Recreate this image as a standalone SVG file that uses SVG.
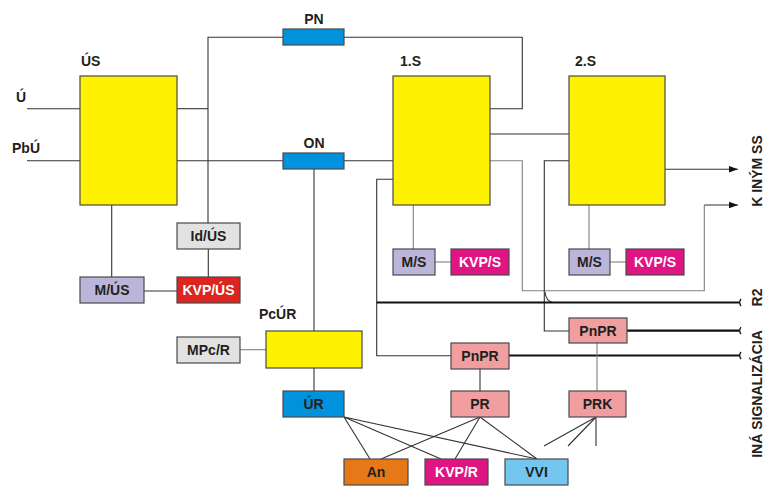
<svg xmlns="http://www.w3.org/2000/svg" width="767" height="486" viewBox="0 0 767 486">
<defs>
<style>
text{font-family:"Liberation Sans",Arial,sans-serif;font-weight:bold;font-size:14px;fill:#231f20}
.c{text-anchor:middle}
.w{fill:#ffffff}
rect{stroke:#4a4a4a;stroke-width:1.2}
.yel{fill:#fff200}
.blu{fill:#0092dd}
.gry{fill:#e2e2e2}
.lav{fill:#bbb5d9}
.red{fill:#dc2420}
.mag{fill:#de1583}
.pnk{fill:#f09ea0}
.org{fill:#e77817}
.lbl{fill:#73c6ef}
.ln{fill:none;stroke:#333;stroke-width:1.1}
.lg{fill:none;stroke:#808080;stroke-width:1.1}
.th{fill:none;stroke:#111;stroke-width:2.2}
</style>
<marker id="arr" markerUnits="userSpaceOnUse" markerWidth="10" markerHeight="8" refX="9" refY="4" orient="auto"><path d="M0,0.8 L9,4 L0,7.2 z" fill="#111"/></marker>
<marker id="tick" markerUnits="userSpaceOnUse" markerWidth="5" markerHeight="9" refX="1.5" refY="4.5" orient="auto"><path d="M3.5,1 Q0.8,4.5 3.5,8" fill="none" stroke="#111" stroke-width="1.3"/></marker>
</defs>

<g id="connectors">
<path class="ln" d="M27,108.7 H80"/>
<path class="ln" d="M27,160.7 H80"/>
<path class="ln" d="M177,108.7 H208"/>
<path class="ln" d="M283,37.3 H208 V223"/>
<path class="ln" d="M177,160.7 H283"/>
<path class="ln" d="M344,37.3 H522.3 V108.7 H490"/>
<path class="ln" d="M344,160.7 H393"/>
<path class="ln" d="M314,169 V331"/>
<path class="ln" d="M314,368 V391"/>
<path class="ln" d="M111.7,205 V277"/>
<path class="ln" d="M144,291 H177"/>
<path class="ln" d="M208.3,249 V277"/>
<path class="lg" d="M240,349.7 H266"/>
<path class="ln" d="M490,134 H569"/>
<path class="lg" d="M490,160.7 H522.3 V290.7 H704.3 V205"/>
<path class="ln" d="M704.3,205 H738" stroke-width="1.8" marker-end="url(#arr)"/>
<path class="ln" d="M665,169.3 H738" marker-end="url(#arr)"/>
<path class="ln" d="M569,160.7 H544.3 V331 H569"/>
<path class="ln" d="M545,292 Q546,301.5 553,302.5"/>
<path class="ln" d="M393,179.3 H376.7 V355.7 H451"/>
<path class="th" d="M376.7,302.5 H739" marker-end="url(#tick)"/>
<path class="th" d="M627,330.7 H739" marker-end="url(#tick)"/>
<path class="th" d="M509,355.5 H739" marker-end="url(#tick)"/>
<path class="lg" d="M413.3,205 V249"/>
<path class="lg" d="M435,262 H451"/>
<path class="lg" d="M589,205 V249"/>
<path class="lg" d="M610,262 H626"/>
<path class="lg" d="M597,343 V391"/>
<path class="ln" d="M480,369 V391"/>
<path class="ln" d="M344,417 L370,459 M344,417 L441,459 M344,417 L537,459"/>
<path class="ln" d="M480,417 L381,459 M480,417 L455,459 M480,417 L537,459"/>
<path class="ln" d="M596,417 L544,446 M596,417 L568,446 M596,417 V446"/>
</g>

<g id="US"><rect class="yel" x="80" y="76" width="97" height="129"/><text x="81" y="66">ÚS</text></g>
<g id="S1"><rect class="yel" x="393" y="76" width="97" height="129"/><text x="400" y="66">1.S</text></g>
<g id="S2"><rect class="yel" x="569" y="76" width="96" height="129"/><text x="575" y="66">2.S</text></g>
<g id="PN"><rect class="blu" x="283" y="29" width="61" height="16"/><text class="c" x="314" y="24">PN</text></g>
<g id="ON"><rect class="blu" x="283" y="153" width="61" height="16"/><text class="c" x="314" y="148">ON</text></g>
<g id="IdUS"><rect class="gry" x="177" y="223" width="63" height="26"/><text class="c" x="208.5" y="241">Id/ÚS</text></g>
<g id="MUS"><rect class="lav" x="80" y="277" width="64" height="26"/><text class="c" x="112" y="295">M/ÚS</text></g>
<g id="KVPUS"><rect class="red" x="177" y="277" width="63" height="26"/><text class="c w" x="208.5" y="295">KVP/ÚS</text></g>
<g id="PcUR"><rect class="yel" x="266" y="331" width="96" height="37"/><text x="259" y="319">PcÚR</text></g>
<g id="MPcR"><rect class="gry" x="177" y="337" width="63" height="26"/><text class="c" x="208.5" y="355">MPc/R</text></g>
<g id="UR"><rect class="blu" x="283" y="391" width="61" height="26"/><text class="c" x="313.5" y="409">ÚR</text></g>
<g id="MS1"><rect class="lav" x="393" y="249" width="42" height="26"/><text class="c" x="414" y="267">M/S</text></g>
<g id="KVPS1"><rect class="mag" x="451" y="249" width="58" height="26"/><text class="c w" x="480" y="267">KVP/S</text></g>
<g id="MS2"><rect class="lav" x="569" y="249" width="41" height="26"/><text class="c" x="589.5" y="267">M/S</text></g>
<g id="KVPS2"><rect class="mag" x="626" y="249" width="58" height="26"/><text class="c w" x="655" y="267">KVP/S</text></g>
<g id="PnPR2"><rect class="pnk" x="569" y="318" width="58" height="25"/><text class="c" x="598" y="335.5">PnPR</text></g>
<g id="PnPR1"><rect class="pnk" x="451" y="343" width="58" height="26"/><text class="c" x="480" y="361">PnPR</text></g>
<g id="PR"><rect class="pnk" x="451" y="391" width="58" height="26"/><text class="c" x="480" y="409">PR</text></g>
<g id="PRK"><rect class="pnk" x="569" y="391" width="57" height="26"/><text class="c" x="597.5" y="409">PRK</text></g>
<g id="An"><rect class="org" x="344" y="459" width="64" height="26"/><text class="c" x="376" y="477">An</text></g>
<g id="KVPR"><rect class="mag" x="425" y="459" width="63" height="26"/><text class="c w" x="456.5" y="477">KVP/R</text></g>
<g id="VVI"><rect class="lbl" x="505" y="459" width="63" height="26"/><text class="c" x="536.5" y="477">VVI</text></g>

<g id="labels">
<text x="16" y="102">Ú</text>
<text x="12" y="153">PbÚ</text>
<text class="c" transform="translate(762,171) rotate(-90)">K INÝM SS</text>
<text class="c" transform="translate(762,297.5) rotate(-90)">R2</text>
<text class="c" transform="translate(762,394) rotate(-90)">INÁ SIGNALIZÁCIA</text>
</g>
</svg>
